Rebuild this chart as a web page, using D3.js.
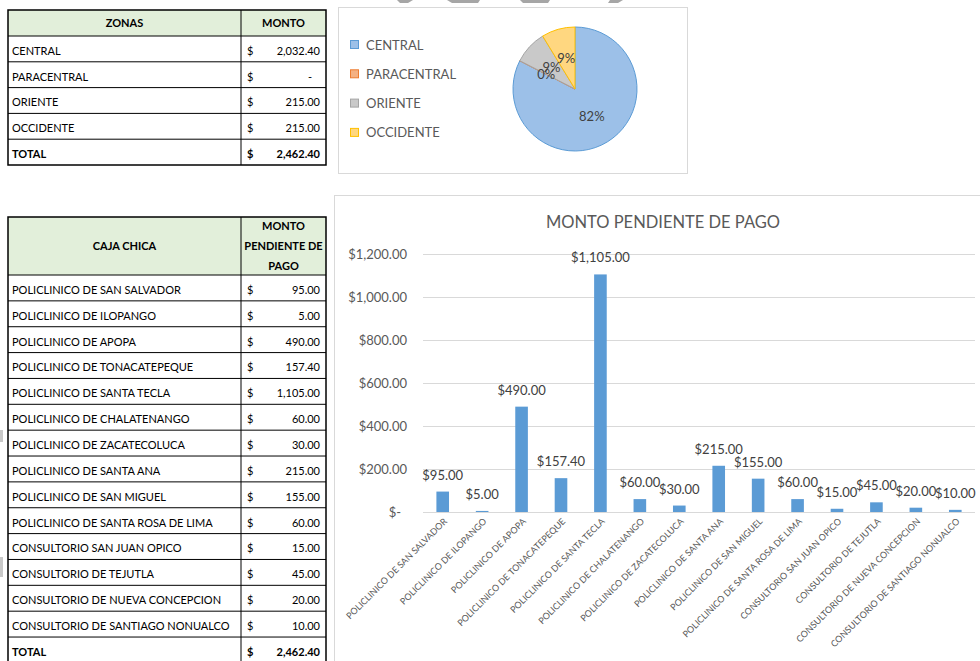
<!DOCTYPE html>
<html>
<head>
<meta charset="utf-8">
<script src="https://cdn.jsdelivr.net/npm/d3@7"></script>
<style>
  html, body { margin: 0; padding: 0; background: #fff; }
  svg { display: block; font-family: Lato, "Open Sans", sans-serif; }
</style>
</head>
<body>
<svg id="page" width="980" height="661"></svg>
<script>
// ---------- DATA ----------
const zones = ["CENTRAL", "PARACENTRAL", "ORIENTE", "OCCIDENTE"];
const zoneValues = [2032.40, 0, 215.00, 215.00];
const zoneFill = ["#9CC0E8", "#F4B183", "#C9C9C9", "#FFD780"];
const zoneStroke = ["#5B9BD5", "#ED7D31", "#A5A5A5", "#FFC000"];

const cajaNames = [
  "POLICLINICO DE SAN SALVADOR",
  "POLICLINICO DE ILOPANGO",
  "POLICLINICO DE APOPA",
  "POLICLINICO DE TONACATEPEQUE",
  "POLICLINICO DE SANTA TECLA",
  "POLICLINICO DE CHALATENANGO",
  "POLICLINICO DE ZACATECOLUCA",
  "POLICLINICO DE SANTA ANA",
  "POLICLINICO DE SAN MIGUEL",
  "POLICLINICO DE SANTA ROSA DE LIMA",
  "CONSULTORIO SAN JUAN OPICO",
  "CONSULTORIO DE TEJUTLA",
  "CONSULTORIO DE NUEVA CONCEPCION",
  "CONSULTORIO DE SANTIAGO NONUALCO"
];
const cajaValues = [95.00, 5.00, 490.00, 157.40, 1105.00, 60.00, 30.00, 215.00, 155.00, 60.00, 15.00, 45.00, 20.00, 10.00];
const yTicks = [0, 200, 400, 600, 800, 1000, 1200];

// ---------- HELPERS ----------
const svg = d3.select("#page");
const fmtNum = d3.format(",.2f");
const fmtMoney = v => v === 0 ? "$-" : "$" + fmtNum(v);
const TF = 11; // table font size

function drawTable(g, opts) {
  const { x0, xDiv, x1, headerTop, headerBottom, rowH, rows, headerLeft, headerRight } = opts;
  const nRows = rows.length;
  const bottom = headerBottom + rowH * nRows;
  g.append("rect").attr("x", x0).attr("y", headerTop).attr("width", x1 - x0).attr("height", headerBottom - headerTop)
    .attr("fill", "#E2EFDA");
  const hMid = (headerTop + headerBottom) / 2;
  g.append("text").attr("x", (x0 + xDiv) / 2).attr("y", hMid + 4).attr("text-anchor", "middle")
    .attr("font-size", TF).attr("font-weight", "bold").attr("fill", "#000").text(headerLeft);
  headerRight.forEach((t, i) => {
    g.append("text").attr("x", (xDiv + x1) / 2)
      .attr("y", hMid + 4 + (i - (headerRight.length - 1) / 2) * 20)
      .attr("text-anchor", "middle").attr("font-size", TF).attr("font-weight", "bold").attr("fill", "#000").text(t);
  });
  rows.forEach((r, i) => {
    const top = headerBottom + i * rowH;
    const base = top + rowH - 7;
    const fw = r.bold ? "bold" : "normal";
    g.append("text").attr("x", x0 + 4).attr("y", base).attr("font-size", TF)
      .attr("font-weight", fw).attr("fill", "#000").text(r.label);
    g.append("text").attr("x", xDiv + 6).attr("y", base).attr("font-size", TF)
      .attr("font-weight", fw).attr("fill", "#000").text("$");
    g.append("text").attr("x", r.value === 0 ? x1 - 14 : x1 - 6).attr("y", base).attr("text-anchor", "end").attr("font-size", TF)
      .attr("font-weight", fw).attr("fill", "#000").text(r.value === 0 ? "-" : fmtNum(r.value));
  });
  const lineColor = "#000";
  d3.range(0, nRows).map(i => headerBottom + i * rowH).forEach(y => {
    g.append("line").attr("x1", x0).attr("x2", x1).attr("y1", y).attr("y2", y).attr("stroke", lineColor).attr("stroke-width", 1);
  });
  g.append("line").attr("x1", xDiv).attr("x2", xDiv).attr("y1", headerTop).attr("y2", bottom).attr("stroke", lineColor).attr("stroke-width", 1);
  g.append("rect").attr("x", x0).attr("y", headerTop).attr("width", x1 - x0).attr("height", bottom - headerTop)
    .attr("fill", "none").attr("stroke", lineColor).attr("stroke-width", 1.5);
}

// ---------- TOP TABLE ----------
const zoneRows = zones.map((z, i) => ({ label: z, value: zoneValues[i] }));
zoneRows.push({ label: "TOTAL", value: d3.sum(zoneValues), bold: true });
drawTable(svg.append("g"), {
  x0: 8, xDiv: 241, x1: 326, headerTop: 10, headerBottom: 36, rowH: 25.8,
  rows: zoneRows, headerLeft: "ZONAS", headerRight: ["MONTO"]
});

// ---------- BOTTOM TABLE ----------
const cajaRows = cajaNames.map((c, i) => ({ label: c, value: cajaValues[i] }));
cajaRows.push({ label: "TOTAL", value: d3.sum(cajaValues), bold: true });
drawTable(svg.append("g"), {
  x0: 8, xDiv: 241, x1: 326, headerTop: 217, headerBottom: 275, rowH: 25.86,
  rows: cajaRows, headerLeft: "CAJA CHICA", headerRight: ["MONTO", "PENDIENTE DE", "PAGO"]
});

// ---------- DECORATIONS (page artefacts) ----------
const deco = svg.append("g").attr("fill", "#A6A6A6");
deco.append("path").attr("d", "M397,0 L413,0 L408,3 L400,3 Z");
deco.append("path").attr("d", "M447,0 L480,0 L478,3 L452,3 Z");
deco.append("path").attr("d", "M520,0 L550,0 L548,3 L523,3 Z");
deco.append("path").attr("d", "M610,0 L623,0 L618,3 L608,3 Z");
svg.append("rect").attr("x", 0).attr("y", 430).attr("width", 3).attr("height", 12).attr("fill", "#C8C8C8");
svg.append("rect").attr("x", 0).attr("y", 557).attr("width", 3).attr("height", 20).attr("fill", "#C8C8C8");

// ---------- PIE CHART ----------
const pieG = svg.append("g");
pieG.append("rect").attr("x", 338.5).attr("y", 7.5).attr("width", 349).attr("height", 166)
  .attr("fill", "#fff").attr("stroke", "#D9D9D9").attr("stroke-width", 1);
const pcx = 575, pcy = 89, pr = 62;
const pie = d3.pie().sort(null).value(d => d)(zoneValues);
const arc = d3.arc().innerRadius(0).outerRadius(pr);
const labelArc = d3.arc().innerRadius(pr * 0.52).outerRadius(pr * 0.52);
const total = d3.sum(zoneValues);
// whole percentages that add up to 100 (largest remainder, as the chart shows)
const rawPct = zoneValues.map(v => v / total * 100);
const pct = rawPct.map(Math.floor);
let left = 100 - d3.sum(pct);
d3.range(rawPct.length).sort((a, b) => (rawPct[b] - pct[b]) - (rawPct[a] - pct[a]))
  .forEach(i => { if (left > 0) { pct[i] += 1; left -= 1; } });
const pg = pieG.append("g").attr("transform", `translate(${pcx},${pcy})`);
pg.selectAll("path").data(pie).join("path")
  .attr("d", arc).attr("fill", (d, i) => zoneFill[i]).attr("stroke", (d, i) => zoneStroke[i]).attr("stroke-width", 1);
pg.selectAll("text").data(pie).join("text")
  .attr("transform", d => `translate(${labelArc.centroid(d)})`)
  .attr("text-anchor", "middle").attr("dy", "0.35em")
  .attr("font-size", 13).attr("fill", "#404040")
  .text((d, i) => pct[i] + "%");
const leg = pieG.append("g");
zones.forEach((z, i) => {
  const ly = 45 + i * 29.3;
  leg.append("rect").attr("x", 350.5).attr("y", ly - 4.5).attr("width", 8).attr("height", 8)
    .attr("fill", zoneFill[i]).attr("stroke", zoneStroke[i]).attr("stroke-width", 1);
  leg.append("text").attr("x", 366).attr("y", ly + 4.5).attr("font-size", 13).attr("fill", "#595959").text(z);
});

// ---------- BAR CHART ----------
const barG = svg.append("g");
barG.append("rect").attr("x", 334.5).attr("y", 195.5).attr("width", 700).attr("height", 500)
  .attr("fill", "#fff").attr("stroke", "#D9D9D9").attr("stroke-width", 1);
barG.append("text").attr("x", 663).attr("y", 228).attr("text-anchor", "middle")
  .attr("font-size", 16.5).attr("fill", "#595959").text("MONTO PENDIENTE DE PAGO");

const plotL = 423, plotR = 975, plotT = 254, plotB = 512;
const x = d3.scaleBand().domain(cajaNames).range([plotL, plotR]).paddingInner(0.68).paddingOuter(0.34);
const y = d3.scaleLinear().domain([0, 1200]).range([plotB, plotT]);

const yAxis = barG.append("g").attr("transform", `translate(${plotL},0)`)
  .call(d3.axisLeft(y).tickValues(yTicks).tickSize(-(plotR - plotL)).tickPadding(16).tickFormat(fmtMoney));
yAxis.select(".domain").remove();
yAxis.selectAll(".tick line").attr("stroke", "#D9D9D9").attr("stroke-width", 1);
yAxis.selectAll(".tick text").attr("font-family", "Lato, sans-serif").attr("font-size", 13).attr("fill", "#595959")
  .attr("dx", d => d === 0 ? -6 : 0);

barG.selectAll("rect.bar").data(cajaValues).join("rect").attr("class", "bar")
  .attr("x", (d, i) => x(cajaNames[i])).attr("width", x.bandwidth())
  .attr("y", d => y(d)).attr("height", d => y(0) - y(d)).attr("fill", "#5B9BD5");

barG.selectAll("text.lbl").data(cajaValues).join("text").attr("class", "lbl")
  .attr("x", (d, i) => x(cajaNames[i]) + x.bandwidth() / 2).attr("y", d => y(d) - 12)
  .attr("text-anchor", "middle").attr("font-size", 13).attr("fill", "#404040")
  .text(d => "$" + fmtNum(d));

const xAxis = barG.append("g").attr("transform", `translate(0,${plotB})`)
  .call(d3.axisBottom(x).tickSize(0).tickPadding(0));
xAxis.select(".domain").remove();
xAxis.selectAll(".tick text")
  .attr("font-family", "Lato, sans-serif").attr("font-size", 9).attr("fill", "#595959")
  .attr("text-anchor", "end").attr("y", 0).attr("dy", 0)
  .attr("transform", "translate(5,10) rotate(-45)");
</script>
</body>
</html>
